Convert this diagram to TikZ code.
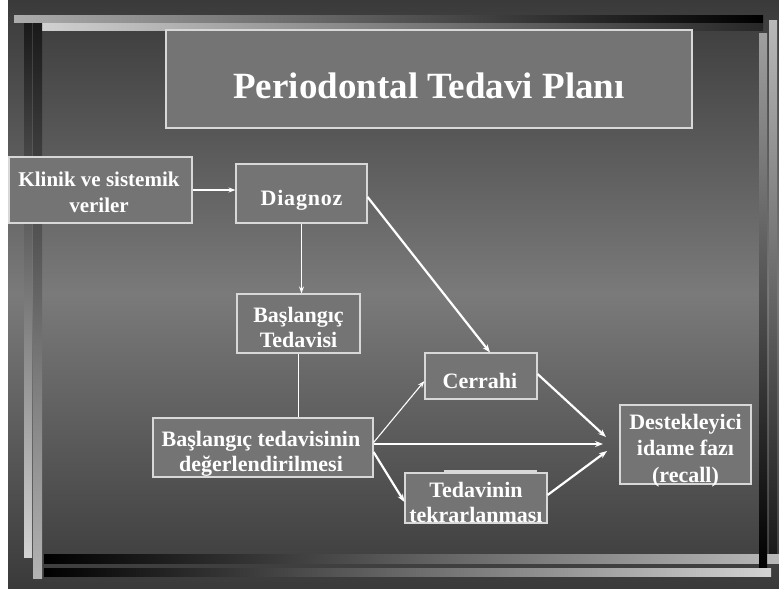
\documentclass[tikz,border=0pt]{standalone}
\usepackage{fontspec}
\setmainfont{Liberation Serif}
\usetikzlibrary{arrows.meta,calc}
\definecolor{bgdark}{HTML}{3A3A3A}
\definecolor{bgmid}{HTML}{7A7A7A}
\definecolor{boxfill}{HTML}{747474}
\definecolor{boxline}{HTML}{D8D8D8}
\begin{document}
\begin{tikzpicture}[x=1pt,y=-1pt,
  box/.style={draw=boxline,line width=1.1pt,fill=boxfill,inner sep=0pt},
  lbl/.style={text=white,align=center,inner sep=0pt,anchor=base,
    font=\bfseries\fontsize{22}{25}\selectfont},
  conn/.style={draw=white,line width=2.2pt,-{Stealth[length=8pt,width=6pt]}},
  thinconn/.style={draw=white,line width=1.1pt,-{Stealth[length=7pt,width=5pt]}},
  plain/.style={draw=white,line width=2pt}]
\useasboundingbox (0,0) rectangle (779,590);
\fill[white] (0,0) rectangle (779,590);
% background
\shade[top color=bgdark,bottom color=bgdark,middle color=bgmid] (8,0) rectangle (779,588);
% decorative bars
\shade[left color=gray!65,right color=black] (14,15) rectangle (763,22);
\shade[left color=gray!35,right color=black!85] (33,23) rectangle (763,30);
\shade[top color=black!90,bottom color=gray!35] (24,23) rectangle (32,557);
\shade[top color=black!90,bottom color=gray!60] (33,23) rectangle (42,578);
\shade[left color=black,right color=gray!55] (44,554) rectangle (779,563);
\shade[left color=black,right color=gray!35] (44,568) rectangle (771,576);
\shade[top color=gray!75,bottom color=black] (759,33) rectangle (767,567);
\shade[top color=gray!55,bottom color=black!90] (769,20) rectangle (777,553);
% boxes
\node[box,minimum width=526,minimum height=98] (title) at (429,79) {};
\node[box,minimum width=183,minimum height=66] (klin) at (100.5,190) {};
\node[box,minimum width=131,minimum height=59] (diag) at (301.5,193.5) {};
\node[box,minimum width=123,minimum height=59] (bas) at (298.5,323.5) {};
\node[box,minimum width=220,minimum height=59] (deg) at (263,447.5) {};
\node[box,minimum width=112,minimum height=46] (cer) at (481,376) {};
\draw[draw=boxline,line width=1.1pt,fill=boxfill] (445,471) rectangle (536,500);
\node[box,minimum width=142,minimum height=50] (ted) at (476,498) {};
\node[box,minimum width=131,minimum height=79] (des) at (685.5,444.5) {};
% texts (anchored at the baseline of their last line)
\node[lbl,font=\bfseries\fontsize{37}{40}\selectfont] (titleT) at (429,98) {Periodontal Tedavi Planı};
\node[lbl,font=\bfseries\fontsize{21}{26}\selectfont] (klinT) at (99,212) {Klinik ve sistemik\\veriler};
\node[lbl] (diagT) at (301.5,205) {D\kern.8pt i\kern.8pt a\kern.8pt g\kern.8pt n\kern.8pt o\kern.8pt z};
\node[lbl] (basT) at (298.5,347) {Başlangıç\\Tedavisi};
\node[lbl] (degT) at (261,471) {Başlangıç tedavisinin\\değerlendirilmesi};
\node[lbl] (cerT) at (480,388) {Cerrahi};
\begin{scope}
\clip (ted.south west) rectangle (ted.north east);
\node[lbl] (tedT) at (476,522) {Tedavinin\\tekrarlanması};
\end{scope}
\node[lbl,font=\bfseries\fontsize{22}{26.5}\selectfont] (desT) at (685.5,482) {Destekleyici\\idame fazı\\(recall)};
% hub points in front of the last box
\coordinate (h1) at (606,437);
\coordinate (h2) at (603,444);
\coordinate (h3) at (607,451);
% connectors
\draw[thinconn] (klin.east) -- (klin.east -| diag.west);
\draw[thinconn,line width=1.5pt] (diag.south) -- (diag.south |- bas.north);
\draw[plain,line width=1.8pt] (bas.south) -- (bas.south |- deg.north);
\draw[conn] ($(diag.east)+(0,3.5)$) -- ($(cer.north)+(9,0)$);
\draw[thinconn] ($(deg.east)+(0,-5)$) -- ($(cer.west)+(0,5)$);
\draw[conn] ($(deg.east)+(0,-3.5)$) -- (h2);
\draw[conn] ($(deg.east)+(0,4.5)$) -- ($(ted.west)+(0,4)$);
\draw[conn] ($(cer.east)+(0,-2)$) -- (h1);
\draw[conn] ($(ted.east)+(0,-3)$) -- (h3);
\end{tikzpicture}
\end{document}
